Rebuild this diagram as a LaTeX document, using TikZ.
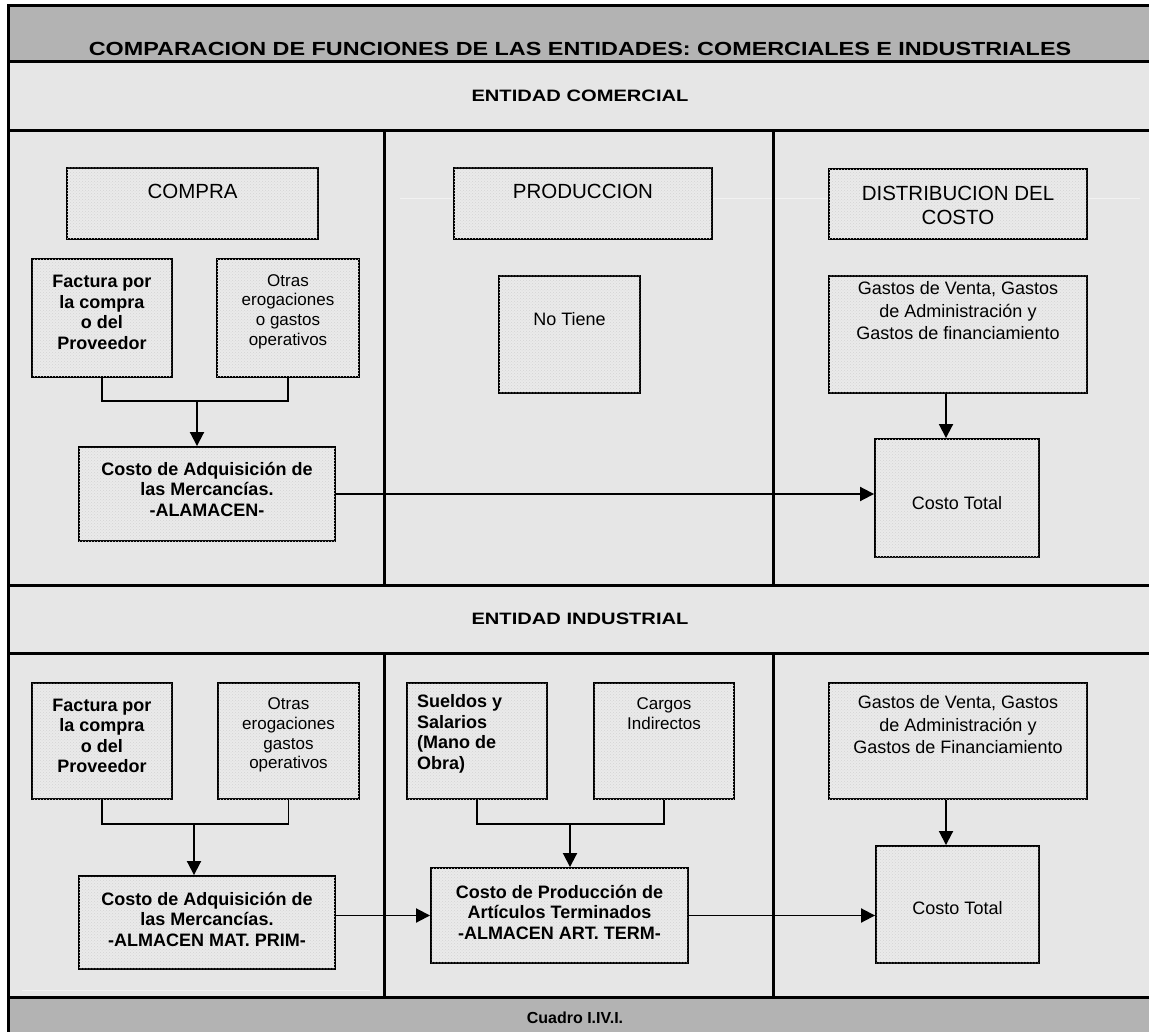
\documentclass[tikz,border=0pt]{standalone}
\usepackage{fontspec}
\setmainfont{Liberation Sans}
\usetikzlibrary{arrows.meta,patterns,shadows}
\definecolor{bg}{RGB}{230,230,230}
\definecolor{bandgray}{RGB}{179,179,179}
\definecolor{boxfill}{RGB}{234,234,234}
\definecolor{dotc}{RGB}{212,212,212}
\definecolor{faint}{RGB}{242,242,242}
\newcommand\boxat[5]{\node[box,minimum width=#4pt,minimum height=#5pt] (#1) at (#2,#3) {};}
\begin{document}
\begin{tikzpicture}[x=1pt,y=-1pt,
  frame/.style={line width=3pt},
  box/.style={draw=black, line width=1.9pt, fill=boxfill,
    postaction={pattern=crosshatch dots, pattern color=dotc},
    inner sep=0pt,
    drop shadow={shadow xshift=1.3pt, shadow yshift=-1.3pt, fill=black!60, opacity=1}},
  conn/.style={line width=1.9pt},
  arr/.style={conn, -{Triangle[length=14pt,width=14pt]}},
  txt/.style={inner sep=0pt, align=center},
  hdr/.style={txt, font=\fontsize{20.5}{24}\selectfont},
  reg/.style={txt, font=\fontsize{18}{22.5}\selectfont},
  sml/.style={txt, font=\fontsize{17}{19.7}\selectfont},
  bld/.style={txt, font=\fontsize{18}{20.5}\selectfont\bfseries},
  bandtxt/.style={txt, font=\fontsize{16.5}{20}\selectfont\bfseries}
]
\useasboundingbox (0,0) rectangle (1149,1032);
% background and bands
\fill[bg] (8,6) rectangle (1165,1045);
\fill[bandgray] (8,6) rectangle (1165,62);
\fill[bandgray] (8,997) rectangle (1165,1045);
% faint lines
\draw[faint, line width=0.8pt] (400,198) -- (1140,198);
\draw[faint, line width=0.8pt] (22,990) -- (370,990);
% frame lines
\draw[frame] (8,1045) -- (8,6) -- (1165,6);
\foreach \yy in {62,131,585,653,997} \draw[frame] (8,\yy) -- (1165,\yy);
\draw[frame] (384,131) -- (384,585);
\draw[frame] (773,131) -- (773,585);
\draw[frame] (384,653) -- (384,997);
\draw[frame] (773,653) -- (773,997);
% band texts
\node[txt, font=\fontsize{19}{22}\selectfont\bfseries] (tit) at (580,48.5) {\scalebox{1.23}[1]{COMPARACION DE FUNCIONES DE LAS ENTIDADES: COMERCIALES E INDUSTRIALES}};
\node[bandtxt] (hc) at (580,96) {\scalebox{1.22}[1]{ENTIDAD COMERCIAL}};
\node[bandtxt] (hi) at (580,619) {\scalebox{1.22}[1]{ENTIDAD INDUSTRIAL}};
\node[txt, font=\fontsize{16}{19}\selectfont\bfseries] (cua) at (575,1018) {Cuadro I.IV.I.};
% comercial boxes
\boxat{compra}{192.5}{203.5}{251}{71}
\boxat{prodc}{583}{203.5}{258}{71}
\boxat{dist}{958}{204}{258}{70}
\boxat{facC}{102}{318}{140}{118}
\boxat{otrC}{288}{318}{142}{118}
\boxat{adqC}{207}{494}{256}{94}
\boxat{notiene}{569.5}{334.5}{141}{117}
\boxat{gasC}{958}{334.5}{258}{117}
\boxat{totC}{957}{498}{164}{118}
% industrial boxes
\boxat{facI}{102}{741}{140}{116}
\boxat{otrI}{288.5}{741}{141}{116}
\boxat{adqI}{207}{922.5}{256}{93}
\boxat{sue}{477}{741}{140}{116}
\boxat{car}{664}{741}{140}{116}
\boxat{prodI}{559.5}{915.5}{257}{95}
\boxat{gasI}{958}{741}{258}{116}
\boxat{totI}{957.5}{904.5}{163}{117}
% box texts comercial
\node[hdr] (tcompra) at (192.5,191) {COMPRA};
\node[hdr] (tprodc) at (583,191) {PRODUCCION};
\node[hdr] (tdist) at (958,205) {DISTRIBUCION DEL\\COSTO};
\node[bld] (tfacC) at (102,312.5) {Factura por\\la compra\\o del\\Proveedor};
\node[sml] (totrC) at (288,311.5) {Otras\\erogaciones\\o gastos\\operativos};
\node[bld] (tadqC) at (207,489) {Costo de Adquisición de\\las Mercancías.\\-ALAMACEN-};
\node[reg] (tnot) at (569.5,319) {No Tiene};
\node[reg] (tgasC) at (958,311) {Gastos de Venta, Gastos\\de Administración y\\Gastos de financiamiento};
\node[reg] (ttotC) at (957,503) {Costo Total};
% box texts industrial
\node[bld] (tfacI) at (102,736) {Factura por\\la compra\\o del\\Proveedor};
\node[sml] (totrI) at (288.5,735) {Otras\\erogaciones\\gastos\\operativos};
\node[bld] (tadqI) at (207,919) {Costo de Adquisición de\\las Mercancías.\\-ALMACEN MAT. PRIM-};
\node[bld, anchor=west, align=left] (tsue) at (417,734) {Sueldos y\\Salarios\\(Mano de\\Obra)};
\node[sml] (tcar) at (664,713.5) {Cargos\\Indirectos};
\node[bld] (tprodI) at (559.5,912) {Costo de Producción de\\Artículos Terminados\\-ALMACEN ART. TERM-};
\node[reg] (tgasI) at (958,725) {Gastos de Venta, Gastos\\de Administración y\\Gastos de Financiamiento};
\node[reg] (ttotI) at (957.5,908) {Costo Total};
% connectors comercial
\draw[conn] (facC.south) -- ++(0,23) -| (otrC.south);
\coordinate (jc) at (197,400);
\draw[arr] (jc) -- (jc |- adqC.north);
\draw[arr] (adqC.east) -- (adqC.east -| totC.west);
\coordinate (ac) at (946,0);
\draw[arr] (gasC.south -| ac) -- (totC.north -| ac);
% connectors industrial
\draw[conn] (facI.south) -- ++(0,24) -| (otrI.south);
\coordinate (ji) at (194,823);
\draw[arr] (ji) -- (ji |- adqI.north);
\draw[conn] (sue.south) -- ++(0,24) -| (car.south);
\coordinate (jp) at (570,823);
\draw[arr] (jp) -- (jp |- prodI.north);
\draw[arr] (adqI.east |- prodI.west) -- (prodI.west);
\draw[arr] (prodI.east) -- (prodI.east -| totI.west);
\draw[arr] (gasI.south -| ac) -- (totI.north -| ac);
\end{tikzpicture}
\end{document}
